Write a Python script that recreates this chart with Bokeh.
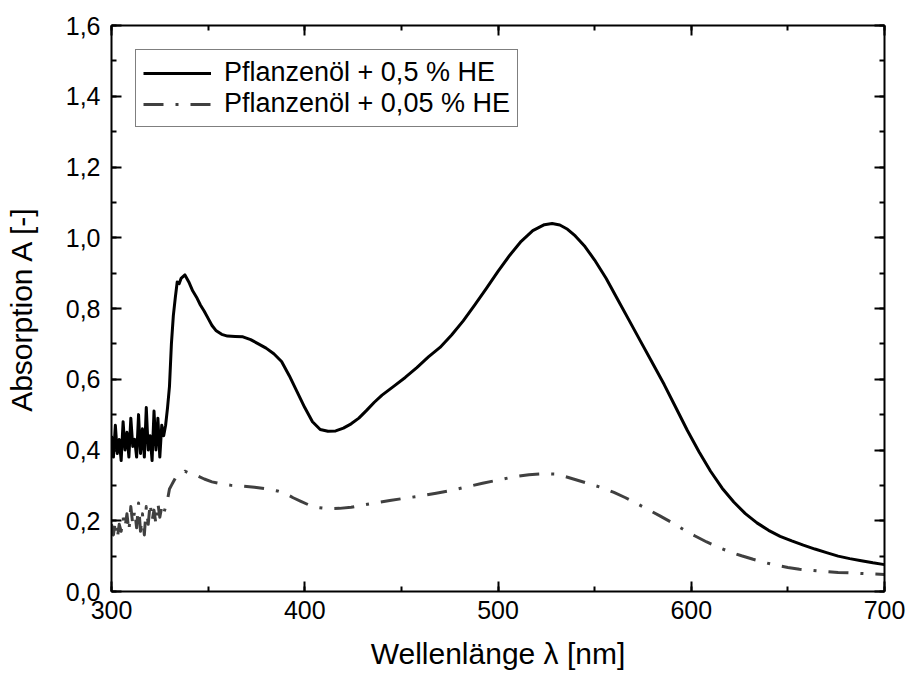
from bokeh.plotting import figure
from bokeh.models import (Range1d, LinearAxis, SingleIntervalTicker, CustomJSTickFormatter,
                          Legend, LegendItem)
from bokeh.embed import file_html
from bokeh.resources import INLINE

# ---------------- data ----------------
series_labels = ["Pflanzenöl + 0,5 % HE", "Pflanzenöl + 0,05 % HE"]
x_title = "Wellenlänge λ [nm]"
y_title = "Absorption A [-]"

# Pflanzenöl + 0,5 % HE
wavelength_a = [300, 301, 302, 303, 304, 305, 306, 307, 308, 309, 310, 311, 312, 313,
                314, 315, 316, 317, 318, 319, 320, 321, 322, 323, 324, 325, 326, 327,
                328, 329, 330, 331, 332, 333, 334, 335, 336, 337, 338, 339, 340, 342,
                344, 346, 348, 350, 352, 354, 357, 360, 364, 368, 372, 376, 380, 384,
                388, 392, 396, 400, 404, 408, 412, 416, 420, 424, 428, 432, 436, 440,
                446, 452, 458, 464, 470, 476, 482, 488, 494, 500, 506, 512, 518, 524,
                528, 532, 536, 540, 545, 550, 556, 562, 568, 574, 580, 586, 592, 598,
                604, 610, 616, 622, 628, 634, 640, 646, 652, 658, 664, 670, 676, 682,
                688, 694, 700]
absorb_a = [0.44, 0.38, 0.47, 0.39, 0.43, 0.37, 0.48, 0.40, 0.45, 0.38, 0.49, 0.41, 0.43, 0.38,
            0.50, 0.39, 0.46, 0.38, 0.52, 0.40, 0.44, 0.37, 0.51, 0.40, 0.49, 0.38, 0.47, 0.44,
            0.47, 0.52, 0.58, 0.70, 0.78, 0.83, 0.875, 0.87, 0.885, 0.89, 0.895, 0.885, 0.875, 0.85,
            0.832, 0.81, 0.792, 0.772, 0.752, 0.738, 0.727, 0.722, 0.721, 0.72, 0.712, 0.70, 0.688, 0.672,
            0.65, 0.61, 0.565, 0.52, 0.48, 0.458, 0.453, 0.454, 0.462, 0.474, 0.49, 0.512, 0.535, 0.555,
            0.58, 0.605, 0.633, 0.663, 0.69, 0.725, 0.765, 0.81, 0.857, 0.905, 0.95, 0.99, 1.02, 1.037,
            1.04, 1.036, 1.024, 1.005, 0.975, 0.937, 0.885, 0.825, 0.765, 0.705, 0.645, 0.585, 0.52, 0.455,
            0.395, 0.34, 0.292, 0.253, 0.22, 0.194, 0.173, 0.156, 0.143, 0.131, 0.12, 0.11, 0.10, 0.093,
            0.087, 0.081, 0.076]

# Pflanzenöl + 0,05 % HE
wavelength_b = [300, 301, 302, 303, 304, 305, 306, 307, 308, 309, 310, 311, 312, 313,
                314, 315, 316, 317, 318, 319, 320, 321, 322, 323, 324, 325, 326, 327,
                328, 329, 330, 331, 332, 333, 335, 337, 338, 340, 344, 348, 352, 356,
                362, 368, 374, 380, 386, 390, 394, 398, 402, 406, 412, 418, 424, 430,
                436, 444, 452, 460, 468, 476, 484, 492, 500, 508, 516, 524, 530, 536,
                542, 548, 554, 560, 566, 572, 578, 584, 590, 596, 602, 608, 614, 620,
                626, 632, 638, 644, 650, 656, 662, 668, 676, 684, 692, 700]
absorb_b = [0.19, 0.16, 0.20, 0.15, 0.19, 0.17, 0.21, 0.18, 0.22, 0.17, 0.24, 0.19, 0.23, 0.18,
            0.25, 0.17, 0.22, 0.16, 0.24, 0.19, 0.25, 0.20, 0.23, 0.19, 0.25, 0.21, 0.24, 0.22,
            0.24, 0.26, 0.29, 0.30, 0.31, 0.32, 0.33, 0.335, 0.34, 0.335, 0.328, 0.318, 0.31, 0.305,
            0.30, 0.298, 0.295, 0.29, 0.284, 0.277, 0.265, 0.255, 0.245, 0.238, 0.234, 0.235, 0.238, 0.244,
            0.25, 0.257, 0.264, 0.27, 0.278, 0.286, 0.296, 0.306, 0.315, 0.324, 0.33, 0.333, 0.332, 0.323,
            0.313, 0.303, 0.293, 0.28, 0.265, 0.248, 0.231, 0.213, 0.195, 0.175, 0.157, 0.14, 0.125, 0.112,
            0.101, 0.091, 0.082, 0.074, 0.068, 0.063, 0.06, 0.057, 0.054, 0.052, 0.05, 0.048]

x_range = (300, 700)
y_range = (0.0, 1.6)

# ---------------- layout ----------------
W, H = 909, 675
FL, FR, FT, FB = 111, 884, 25, 591      # frame edges in pixels
FONT = "Liberation Sans"
TICK_PX = 25
LABEL_PX = 30
LEGEND_PX = 27

p = figure(width=W, height=H, output_backend="svg", toolbar_location=None,
           x_range=Range1d(*x_range), y_range=Range1d(*y_range),
           min_border_left=FL, min_border_right=W - FR,
           min_border_top=FT, min_border_bottom=H - FB)
p.xgrid.visible = False
p.ygrid.visible = False
p.outline_line_color = None
p.background_fill_color = "white"
p.border_fill_color = "white"

x_fmt = CustomJSTickFormatter(code="return tick.toFixed(0);")
y_fmt = CustomJSTickFormatter(code="return tick.toFixed(1).replace('.', ',');")
blank = CustomJSTickFormatter(code="return '';")


def style_axis(ax, ticker, fmt, standoff):
    ax.ticker = ticker
    ax.formatter = fmt
    ax.axis_line_width = 2
    ax.axis_line_color = "black"
    ax.major_tick_in = 10
    ax.major_tick_out = 0
    ax.minor_tick_in = 5
    ax.minor_tick_out = 0
    ax.major_tick_line_width = 2
    ax.minor_tick_line_width = 2
    ax.major_tick_line_color = "black"
    ax.minor_tick_line_color = "black"
    ax.major_label_text_font = FONT
    ax.major_label_text_font_size = f"{TICK_PX}px"
    ax.major_label_text_color = "black"
    ax.major_label_standoff = standoff
    ax.axis_label_text_font = FONT
    ax.axis_label_text_font_size = f"{LABEL_PX}px"
    ax.axis_label_text_font_style = "normal"
    ax.axis_label_text_color = "black"


style_axis(p.xaxis[0], SingleIntervalTicker(interval=100, num_minor_ticks=2), x_fmt, 9)
style_axis(p.yaxis[0], SingleIntervalTicker(interval=0.2, num_minor_ticks=2), y_fmt, 11)
p.xaxis[0].axis_label = x_title
p.xaxis[0].axis_label_standoff = 15
p.yaxis[0].axis_label = y_title
p.yaxis[0].axis_label_standoff = 25

top = LinearAxis()
style_axis(top, SingleIntervalTicker(interval=100, num_minor_ticks=2), blank, 0)
top.major_label_text_font_size = "1px"
p.add_layout(top, "above")
right = LinearAxis()
style_axis(right, SingleIntervalTicker(interval=0.2, num_minor_ticks=2), blank, 0)
right.major_label_text_font_size = "1px"
p.add_layout(right, "right")

# ---------------- lines ----------------
r_a = p.line(wavelength_a, absorb_a, line_color="black", line_width=3, line_join="round")
r_b = p.line(wavelength_b, absorb_b, line_color="#404040", line_width=3,
             line_dash="20 12 3 12", line_join="round")

legend = Legend(items=[LegendItem(label=series_labels[0], renderers=[r_a]),
                       LegendItem(label=series_labels[1], renderers=[r_b])],
                location="top_left", margin=24, padding=7, spacing=0,
                glyph_width=68, glyph_height=24, label_height=24, label_standoff=13,
                label_text_font=FONT, label_text_font_size=f"{LEGEND_PX}px",
                label_text_color="black", label_text_baseline="middle",
                border_line_color="black", border_line_width=1,
                background_fill_color="white", background_fill_alpha=1.0)
p.add_layout(legend)

open("out.html", "w").write(file_html(p, INLINE))
